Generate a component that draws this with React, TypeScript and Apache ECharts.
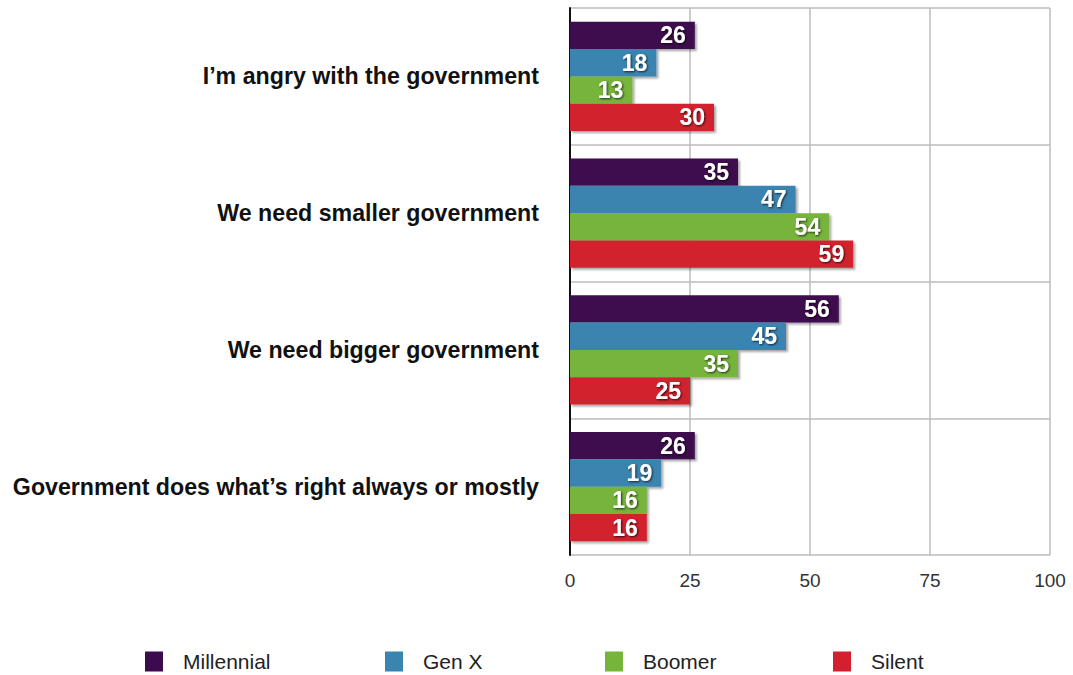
import React, { useEffect, useRef } from "react";
import * as echarts from "echarts";

const categories = [
  "I’m angry with the government",
  "We need smaller government",
  "We need bigger government",
  "Government does what’s right always or mostly",
];
const seriesNames = ["Millennial", "Gen X", "Boomer", "Silent"];
const millennial = [26, 35, 56, 26];
const genX = [18, 47, 45, 19];
const boomer = [13, 54, 35, 16];
const silent = [30, 59, 25, 16];
const colors = ["#3c0b4e", "#3a84b0", "#76b43a", "#d2202e"];
const xTicks = [0, 25, 50, 75, 100];

export default function App() {
  const ref = useRef<HTMLDivElement>(null);
  useEffect(() => {
    const chart = echarts.init(ref.current!, null, { renderer: "svg" });
    const values = [millennial, genX, boomer, silent];
    const legendLefts = [145, 385, 605, 833];
    chart.setOption({
      animation: false,
      grid: { left: 570, right: 23, top: 8, bottom: 120, containLabel: false },
      xAxis: {
        type: "value",
        min: xTicks[0],
        max: xTicks[xTicks.length - 1],
        interval: 25,
        axisLine: { show: false },
        axisTick: { show: false },
        axisLabel: {
          color: "#333",
          fontSize: 19,
          fontFamily: "Liberation Sans, Arial, sans-serif",
          margin: 16,
        },
        splitLine: { show: true, lineStyle: { color: "#bdbdbd", width: 1.5 } },
      },
      yAxis: {
        type: "category",
        data: categories,
        inverse: true,
        axisLine: { show: true, lineStyle: { color: "#111", width: 2 } },
        axisTick: { show: false },
        axisLabel: {
          color: "#111",
          fontSize: 23.2,
          fontWeight: "bold",
          fontFamily: "Liberation Sans, Arial, sans-serif",
          margin: 31,
        },
        splitLine: { show: true, lineStyle: { color: "#bdbdbd", width: 1.5 } },
      },
      legend: seriesNames.map((n, i) => ({
        data: [n],
        left: legendLefts[i],
        top: 651,
        padding: 0,
        itemWidth: 18,
        itemHeight: 20,
        itemGap: 10,
        icon: "rect",
        textStyle: {
          color: "#222",
          fontSize: 21,
          fontFamily: "Liberation Sans, Arial, sans-serif",
          padding: [0, 0, 0, 15],
        },
      })),
      series: seriesNames.map((n, i) => ({
        name: n,
        type: "bar",
        data: values[i],
        barGap: "0%",
        barCategoryGap: "20%",
        itemStyle: {
          color: colors[i],
          shadowColor: "rgba(0,0,0,0.35)",
          shadowOffsetX: 2,
          shadowOffsetY: 2,
          shadowBlur: 2,
        },
        label: {
          show: true,
          position: "insideRight",
          color: "#fff",
          fontSize: 23,
          fontWeight: "bold",
          fontFamily: "Liberation Sans, Arial, sans-serif",
          textShadowColor: "rgba(0,0,0,0.75)",
          textShadowBlur: 2,
          textShadowOffsetX: 1,
          textShadowOffsetY: 1,
          distance: 9,
        },
      })),
    });
    return () => chart.dispose();
  }, []);
  return <div ref={ref} style={{ width: 1073, height: 675, position: "absolute", left: 0, top: 0 }} />;
}
